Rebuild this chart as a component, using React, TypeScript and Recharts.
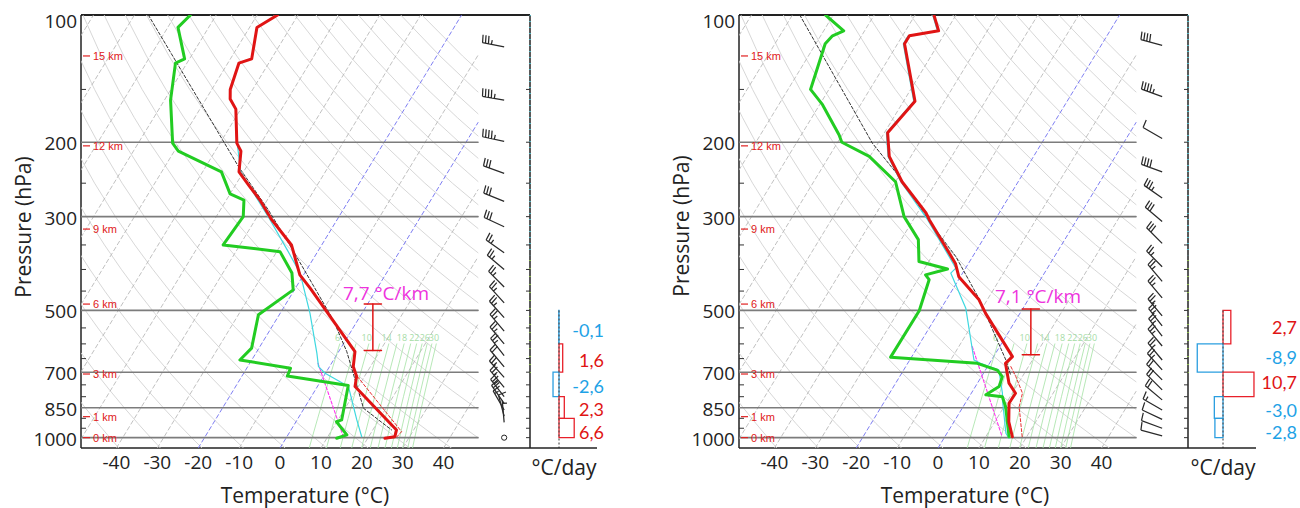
import React from 'react'
import { ComposedChart, Scatter, XAxis, YAxis, ReferenceLine, ReferenceArea } from 'recharts'

// skew-T frame (temperature axis read at the bottom edge, 1058 hPa)
const SKEW = 27.3
const P_BASE = 1058
const X_MIN = -48.66
const X_MAX = 61.12
const X_EDGE = 48.41
const X_BARB = 54.8
const X_BRACKET = 22.7

const pressureTicks = [100, 150, 200, 250, 300, 350, 400, 450, 500, 550, 600, 650, 700, 750, 800, 850, 900, 950, 1000]
const pressureLabels = [100, 200, 300, 500, 700, 850, 1000]
const minorPressures = [150, 250, 350, 400, 450, 550, 600, 650, 750, 800, 900, 950]
const isobars = [200, 300, 500, 700, 850, 1000]
const temperatureTicks = [-40, -30, -20, -10, 0, 10, 20, 30, 40]
const isotherms = [-110, -100, -90, -80, -70, -60, -50, -40, -30, -20, -10, 0, 10, 20, 30, 40]
const blueIsotherms = [-20, 0]
const thetas = [230, 240, 250, 260, 270, 280, 290, 300, 310, 320, 330, 340, 350, 360, 370, 380, 390, 400, 410, 420, 430, 440, 450, 460, 470]
const adiabatLevels = [1058, 1000, 925, 850, 775, 700, 625, 550, 500, 450, 400, 350, 300, 250, 200, 175, 150, 125, 100]
const mixingRatios = [6, 8, 10, 12, 14, 16, 18, 20, 22, 24, 26, 28, 30]
const mixingLabels = [6, 10, 14, 18, 22, 26, 30]
const mixingLevels = [1058, 1000, 900, 800, 700, 600]
const heightLabels = ['15 km', '12 km', '9 km', '6 km', '3 km', '1 km', '0 km']
const heightPressures = [125, 204, 321, 483, 707, 892, 1000]
const heatingLayers = [[500, 600], [600, 700], [700, 800], [800, 900], [900, 1000]]

// left sounding
const s1TempP = [100, 107, 127, 130, 150, 158, 167, 201, 210, 235, 255, 274, 305, 350, 412, 443, 626, 679, 717, 757, 959, 995, 1003]
const s1TempT = [-65.0, -68.2, -64.8, -67.3, -65.5, -64.1, -61.2, -55.9, -53.7, -51.1, -46.2, -41.8, -36.0, -27.4, -20.9, -16.4, 4.0, 5.8, 8.1, 9.2, 25.8, 26.4, 24.2]
const s1DewP = [100, 107, 127, 130, 159, 201, 210, 235, 265, 274, 300, 350, 363, 408, 447, 512, 614, 655, 685, 715, 753, 908, 917, 985, 1003]
const s1DewT = [-86.3, -87.5, -81.2, -82.8, -78.5, -71.6, -69.0, -55.4, -50.0, -45.7, -43.4, -44.1, -29.2, -23.1, -20.3, -25.1, -21.8, -22.9, -9.3, -8.9, 7.4, 10.9, 9.9, 14.4, 12.4]
const s1WetP = [201, 235, 274, 305, 363, 408, 508, 631, 679, 704, 757, 908, 995]
const s1WetT = [-55.8, -50.7, -42.3, -36.4, -27.2, -21.1, -12.7, -5.1, -2.7, -0.1, 7.6, 14.6, 18.3]
const s1ParcelP = [100, 228, 289, 356, 527, 626, 852, 959]
const s1ParcelT = [-96.6, -52.1, -38.3, -26.9, -6.0, 2.0, 14.5, 24.6]
const s1MixP = [667, 995]
const s1MixT = [-3.3, 13.8]
const s1VirtP = [717, 968, 995]
const s1VirtT = [8.3, 27.3, 26.9]
const s1BarbP = [119, 159, 199, 237, 276, 317, 365, 400, 440, 480, 520, 560, 600, 640, 680, 720, 760, 800, 830, 860, 890, 920, 1000]
const s1BarbDir = [281, 280, 282, 290, 292, 295, 305, 310, 315, 318, 318, 320, 320, 322, 320, 318, 320, 322, 325, 330, 345, 355, 0]
const s1BarbSpd = [35, 45, 45, 30, 30, 30, 25, 25, 25, 25, 25, 25, 25, 25, 20, 25, 25, 25, 20, 15, 10, 5, 0]
const s1Bracket = [483, 622]
const s1Heating = [-0.1, 1.6, -2.6, 2.3, 6.6]
const s1HeatingLabelP = [556, 655, 754, 855, 969]

// right sounding
const s2TempP = [100, 109, 112, 117, 160, 190, 216, 248, 294, 305, 387, 416, 472, 508, 643, 667, 743, 785, 829, 917, 995]
const s2TempT = [-65.4, -61.9, -68.3, -68.3, -57.2, -59.2, -55.3, -48.4, -37.9, -36.1, -23.2, -20.4, -12.0, -8.4, 4.6, 3.9, 7.7, 10.8, 10.7, 13.4, 16.5]
const s2DewP = [100, 109, 112, 117, 150, 163, 192, 200, 216, 248, 300, 340, 383, 399, 412, 423, 501, 645, 667, 692, 717, 757, 792, 800, 845, 995]
const s2DewT = [-91.9, -85.1, -87.1, -87.7, -84.5, -79.3, -70.8, -69.0, -60.2, -50.0, -42.7, -35.8, -32.4, -24.3, -28.8, -27.2, -25.0, -25.1, -3.0, 2.9, 5.1, 5.8, 3.8, 8.1, 10.4, 15.7]
const s2WetP = [100, 109, 112, 117, 160, 190, 216, 248, 305, 340, 397, 408, 494, 655, 667, 692, 785, 814, 976, 1003]
const s2WetT = [-65.7, -62.2, -68.6, -68.6, -57.5, -59.5, -55.6, -48.7, -36.5, -30.7, -22.4, -22.9, -14.0, -4.3, -2.2, 3.3, 7.6, 8.6, 14.4, 15.9]
const s2ParcelP = [100, 201, 241, 311, 373, 468, 655, 711]
const s2ParcelT = [-98.2, -61.4, -49.9, -35.2, -24.1, -12.3, 3.5, 6.9]
const s2MixP = [609, 995]
const s2MixT = [-6.7, 14.0]
const s2VirtP = [679, 717, 785, 845, 995]
const s2VirtT = [5.7, 8.4, 12.5, 13.7, 18.9]
const s2BarbP = [118, 156, 196, 235, 271, 308, 347, 394, 427, 467, 515, 544, 575, 607, 655, 691, 730, 771, 814, 860, 905, 950, 990]
const s2BarbDir = [285, 290, 300, 290, 305, 310, 315, 315, 320, 320, 320, 322, 322, 320, 320, 318, 315, 315, 310, 300, 295, 290, 285]
const s2BarbSpd = [40, 45, 10, 40, 35, 30, 30, 25, 25, 25, 25, 25, 25, 25, 25, 25, 20, 20, 20, 15, 10, 10, 10]
const s2Bracket = [496, 637]
const s2Heating = [2.7, -8.9, 10.7, -3.0, -2.8]
const s2HeatingLabelP = [546, 643, 737, 860, 968]

const RED = '#e01414'
const GREEN = '#22cc22'
const CYAN = '#3fd8e0'
const BLUE_TXT = '#1ea2e6'
const KM_RED = '#e02020'
const FONT = '"Open Sans", sans-serif'

type Pt = { x: number; p: number }

const skewX = (t: number, p: number) => t + SKEW * Math.log(P_BASE / p)
const profile = (ps: number[], ts: number[]): Pt[] => ps.map((p, i) => ({ x: skewX(ts[i], p), p }))
const dewFromMixing = (w: number, p: number) => {
  const e = (w * p) / (622 + w)
  const g = Math.log(e / 6.112)
  return (243.5 * g) / (17.67 - g)
}

function clip(pts: Pt[], lo: number, hi: number): Pt[] {
  const out: Pt[] = []
  for (let i = 0; i < pts.length; i++) {
    const a = pts[i]
    if (i > 0) {
      const b = pts[i - 1]
      for (const edge of [lo, hi]) {
        if ((a.x - edge) * (b.x - edge) < 0) {
          const f = (edge - b.x) / (a.x - b.x)
          out.push({ x: edge, p: Math.exp(Math.log(b.p) + f * (Math.log(a.p) - Math.log(b.p))) })
        }
      }
    }
    if (a.x >= lo && a.x <= hi) out.push(a)
  }
  return out
}

const isothermLines = isotherms.map((t) => ({
  t,
  pts: clip([{ x: skewX(t, P_BASE), p: P_BASE }, { x: skewX(t, 100), p: 100 }], X_MIN, X_EDGE),
}))
const adiabatLines = thetas.map((th) =>
  clip(adiabatLevels.map((p) => ({ x: skewX(th * Math.pow(p / 1000, 0.2857) - 273.15, p), p })), X_MIN, X_EDGE),
)
const mixingLines = mixingRatios.map((w) => mixingLevels.map((p) => ({ x: skewX(dewFromMixing(w, p), p), p })))
const mixingText = mixingLabels.map((w) => ({ x: skewX(dewFromMixing(w, 590), 590), p: 590, label: String(w) }))
const heightMarks = heightPressures.map((p, i) => ({ x: X_MIN, p, label: heightLabels[i] }))
const leftTicks = minorPressures.map((p) => ({ x: X_MIN, p }))
const rightTicks = pressureTicks.map((p) => ({ x: X_MAX, p }))

const noDot = () => <g />

function lineItem(key: string, data: Pt[], stroke: string, strokeWidth: number, dash?: string) {
  return (
    <Scatter
      key={key}
      data={data}
      line={{ stroke, strokeWidth, strokeDasharray: dash, strokeLinejoin: 'round', strokeLinecap: 'round' }}
      lineType="joint"
      shape={noDot}
      isAnimationActive={false}
      legendType="none"
    />
  )
}

// wind barb glyph as one path, station at (cx, cy)
function barbPath(cx: number, cy: number, wdir: number, wspd: number) {
  const a = (wdir * Math.PI) / 180
  const dx = Math.sin(a)
  const dy = -Math.cos(a)
  const px = -dy
  const py = dx
  const len = 22
  const tx = cx + dx * len
  const ty = cy + dy * len
  let d = `M${cx},${cy}L${tx},${ty}`
  let s = wspd
  let pos = 0
  while (s >= 7.5) {
    const bx = tx - dx * pos
    const by = ty - dy * pos
    d += `M${bx},${by}L${bx + px * 8 + dx},${by + py * 8 + dy}`
    pos += 3
    s -= 10
  }
  if (s >= 2.5) {
    const hp = pos === 0 ? 3 : pos
    const bx = tx - dx * hp
    const by = ty - dy * hp
    d += `M${bx},${by}L${bx + px * 4.5},${by + py * 4.5}`
  }
  return d
}

const barbShape = (props: any) => {
  const { cx, cy, payload } = props
  if (!payload.wspd) return <circle cx={cx} cy={cy} r={2.6} fill="none" stroke="#222" strokeWidth={1} />
  return <path d={barbPath(cx, cy, payload.wdir, payload.wspd)} stroke="#2a2a2a" strokeWidth={1.25} fill="none" />
}

const kmShape = (props: any) => (
  <g>
    <line x1={props.cx + 2} x2={props.cx + 9} y1={props.cy} y2={props.cy} stroke={KM_RED} strokeWidth={1.2} />
    <text x={props.cx + 12} y={props.cy} dominantBaseline="central" fontSize={11} fill={KM_RED} fontFamily="Liberation Sans, Arial">
      {props.payload.label}
    </text>
  </g>
)
const leftTickShape = (props: any) => <line x1={props.cx} x2={props.cx + 5} y1={props.cy} y2={props.cy} stroke="#333" strokeWidth={1} />
const rightTickShape = (props: any) => <line x1={props.cx - 4} x2={props.cx} y1={props.cy} y2={props.cy} stroke="#333" strokeWidth={1} />
const mixLabelShape = (props: any) => (
  <text x={props.cx - 3} y={props.cy} textAnchor="middle" fontSize={9} fill="#a6dca6" fontFamily={FONT}>
    {props.payload.label}
  </text>
)

const yTick = (props: any) => {
  const v = props.payload.value
  if (!pressureLabels.includes(v)) return <g />
  return (
    <text x={props.x} y={props.y + (v === 100 ? 6 : 1)} textAnchor="end" dominantBaseline="central" fontSize={19} fill="#222" fontFamily={FONT}>
      {v}
    </text>
  )
}
const xTick = (props: any) => (
  <text x={props.x} y={props.y} dy="0.71em" textAnchor="middle" fontSize={19} fill="#222" fontFamily={FONT}>
    {props.payload.value}
  </text>
)

interface Sounding {
  tempP: number[]; tempT: number[]
  dewP: number[]; dewT: number[]
  wetP: number[]; wetT: number[]
  parcelP: number[]; parcelT: number[]
  mixP: number[]; mixT: number[]
  virtP: number[]; virtT: number[]
  barbP: number[]; barbDir: number[]; barbSpd: number[]
  bracket: number[]
}

function SkewT({ s }: { s: Sounding }) {
  const barbs = s.barbP.map((p, i) => ({ x: X_BARB, p, wdir: s.barbDir[i], wspd: s.barbSpd[i] }))
  const [b0, b1] = s.bracket
  return (
    <ComposedChart width={540} height={508} margin={{ top: 15, right: 10, bottom: 30, left: 41 }}>
      <XAxis
        type="number"
        dataKey="x"
        domain={[X_MIN, X_MAX]}
        ticks={temperatureTicks}
        interval={0}
        allowDataOverflow
        tickSize={0}
        tickMargin={8}
        tick={xTick}
        axisLine={{ stroke: '#222', strokeWidth: 1.5 }}
        height={30}
      />
      <YAxis
        type="number"
        dataKey="p"
        scale="log"
        domain={[100, P_BASE]}
        reversed
        allowDataOverflow
        ticks={pressureTicks}
        interval={0}
        tickSize={0}
        tickMargin={4}
        tick={yTick}
        axisLine={{ stroke: '#222', strokeWidth: 1.5 }}
        width={40}
      />
      {adiabatLines.map((pts, i) => lineItem(`ad${i}`, pts, '#d2d2d2', 0.9))}
      {isothermLines.map((l) =>
        lineItem(`it${l.t}`, l.pts, blueIsotherms.includes(l.t) ? '#6f6ff0' : '#b9b9b9', 0.9, '4 3'),
      )}
      {mixingLines.map((pts, i) => lineItem(`mr${i}`, pts, '#a4e2a4', 0.8))}
      <Scatter data={mixingText} shape={mixLabelShape} isAnimationActive={false} legendType="none" />
      {isobars.map((p) => lineItem(`ib${p}`, [{ x: X_MIN, p }, { x: X_EDGE, p }], '#7c7c7c', 1.6))}
      <Scatter data={leftTicks} shape={leftTickShape} isAnimationActive={false} legendType="none" />
      <Scatter data={rightTicks} shape={rightTickShape} isAnimationActive={false} legendType="none" />
      <Scatter data={heightMarks} shape={kmShape} isAnimationActive={false} legendType="none" />
      {lineItem('parcel', profile(s.parcelP, s.parcelT), '#333', 1, '3 2')}
      {lineItem('mix', profile(s.mixP, s.mixT), '#ff33ee', 1.1, '3 2')}
      {lineItem('virt', profile(s.virtP, s.virtT), '#e83030', 1, '3 2')}
      {lineItem('wet', profile(s.wetP, s.wetT), CYAN, 1.2)}
      {lineItem('dew', profile(s.dewP, s.dewT), GREEN, 3)}
      {lineItem('temp', profile(s.tempP, s.tempT), RED, 3)}
      {lineItem('br', [{ x: X_BRACKET, p: b0 }, { x: X_BRACKET, p: b1 }], RED, 1.5)}
      {lineItem('brt', [{ x: X_BRACKET - 2.1, p: b0 }, { x: X_BRACKET + 2.1, p: b0 }], RED, 1.5)}
      {lineItem('brb', [{ x: X_BRACKET - 2.1, p: b1 }, { x: X_BRACKET + 2.1, p: b1 }], RED, 1.5)}
      <Scatter data={barbs} shape={barbShape} isAnimationActive={false} legendType="none" />
      <ReferenceLine y={100} stroke="#222" strokeWidth={1.8} />
      <ReferenceLine x={X_MAX} stroke="#222" strokeWidth={1.5} />
      <ReferenceLine segment={[{ x: X_MAX, y: 100 }, { x: X_MAX, y: 370 }]} stroke="#4fd6e6" strokeWidth={1.5} strokeDasharray="1 5" />
      <ReferenceLine segment={[{ x: X_MAX, y: 380 }, { x: X_MAX, y: 720 }]} stroke="#9ad84a" strokeWidth={1.5} strokeDasharray="1 7" />
    </ComposedChart>
  )
}

const fmt = (v: number) => v.toFixed(1).replace('.', ',')

interface HeatingProps {
  values: number[]
  labelP: number[]
  domain: number[]
  width: number
  right: number
  labelDx: number
}

function Heating({ values, labelP, domain, width, right, labelDx }: HeatingProps) {
  const labels = values.map((v, i) => ({
    x: 0,
    p: labelP[i],
    text: fmt(v),
    color: v < 0 ? BLUE_TXT : RED,
  }))
  const labelShape = (props: any) => (
    <text x={props.cx + labelDx} y={props.cy} textAnchor="end" dominantBaseline="central" fontSize={18} fill={props.payload.color} fontFamily="Lato, sans-serif">
      {props.payload.text}
    </text>
  )
  return (
    <ComposedChart width={width} height={508} margin={{ top: 15, right, bottom: 30, left: 0 }}>
      <XAxis type="number" dataKey="x" domain={domain} tick={false} tickLine={false} axisLine={{ stroke: '#222', strokeWidth: 1.5 }} height={30} />
      <YAxis type="number" dataKey="p" scale="log" domain={[100, P_BASE]} reversed hide />
      <ReferenceLine segment={[{ x: 0, y: 500 }, { x: 0, y: P_BASE }]} stroke="#555" strokeDasharray="2 2" strokeWidth={1.2} />
      {heatingLayers.map(([a, b], i) => (
        <ReferenceArea
          key={i}
          x1={0}
          x2={values[i]}
          y1={a}
          y2={b}
          fill="none"
          fillOpacity={0}
          stroke={values[i] < 0 ? '#2a9ee0' : '#e8202a'}
          strokeWidth={1.3}
        />
      ))}
      <Scatter data={labels} shape={labelShape} isAnimationActive={false} legendType="none" />
    </ComposedChart>
  )
}

const left: Sounding = {
  tempP: s1TempP, tempT: s1TempT, dewP: s1DewP, dewT: s1DewT, wetP: s1WetP, wetT: s1WetT,
  parcelP: s1ParcelP, parcelT: s1ParcelT, mixP: s1MixP, mixT: s1MixT, virtP: s1VirtP, virtT: s1VirtT,
  barbP: s1BarbP, barbDir: s1BarbDir, barbSpd: s1BarbSpd, bracket: s1Bracket,
}
const right: Sounding = {
  tempP: s2TempP, tempT: s2TempT, dewP: s2DewP, dewT: s2DewT, wetP: s2WetP, wetT: s2WetT,
  parcelP: s2ParcelP, parcelT: s2ParcelT, mixP: s2MixP, mixT: s2MixT, virtP: s2VirtP, virtT: s2VirtT,
  barbP: s2BarbP, barbDir: s2BarbDir, barbSpd: s2BarbSpd, bracket: s2Bracket,
}

const txt = (left: number, top: number, size: number, color: string, rotate = 0): React.CSSProperties => ({
  position: 'absolute',
  left,
  top,
  fontSize: size,
  color,
  whiteSpace: 'nowrap',
  transform: `translate(-50%, -50%) rotate(${rotate}deg)`,
  fontFamily: FONT,
})

export default function App() {
  return (
    <div style={{ position: 'absolute', left: 0, top: 0, width: 1300, height: 508, background: '#fff', overflow: 'hidden' }}>
      <div style={{ position: 'absolute', left: 0, top: 0 }}>
        <SkewT s={left} />
      </div>
      <div style={{ position: 'absolute', left: 530, top: 0 }}>
        <Heating values={s1Heating} labelP={s1HeatingLabelP} domain={[-12.6, 16.5]} width={110} right={43} labelDx={45} />
      </div>
      <div style={{ position: 'absolute', left: 658, top: 0 }}>
        <SkewT s={right} />
      </div>
      <div style={{ position: 'absolute', left: 1188, top: 0 }}>
        <Heating values={s2Heating} labelP={s2HeatingLabelP} domain={[-12.1, 11.4]} width={112} right={44} labelDx={74} />
      </div>
      <div style={txt(23, 227, 21, '#222', -90)}>Pressure (hPa)</div>
      <div style={txt(681, 226, 21, '#222', -90)}>Pressure (hPa)</div>
      <div style={txt(305, 495, 21, '#222')}>Temperature (°C)</div>
      <div style={txt(965, 495, 21, '#222')}>Temperature (°C)</div>
      <div style={txt(564, 467, 21, '#222')}>°C/day</div>
      <div style={txt(1223, 467, 21, '#222')}>°C/day</div>
      <div style={txt(386, 293, 19, '#ee33dd')}>7,7 °C/km</div>
      <div style={txt(1038, 296, 19, '#ee33dd')}>7,1 °C/km</div>
    </div>
  )
}
